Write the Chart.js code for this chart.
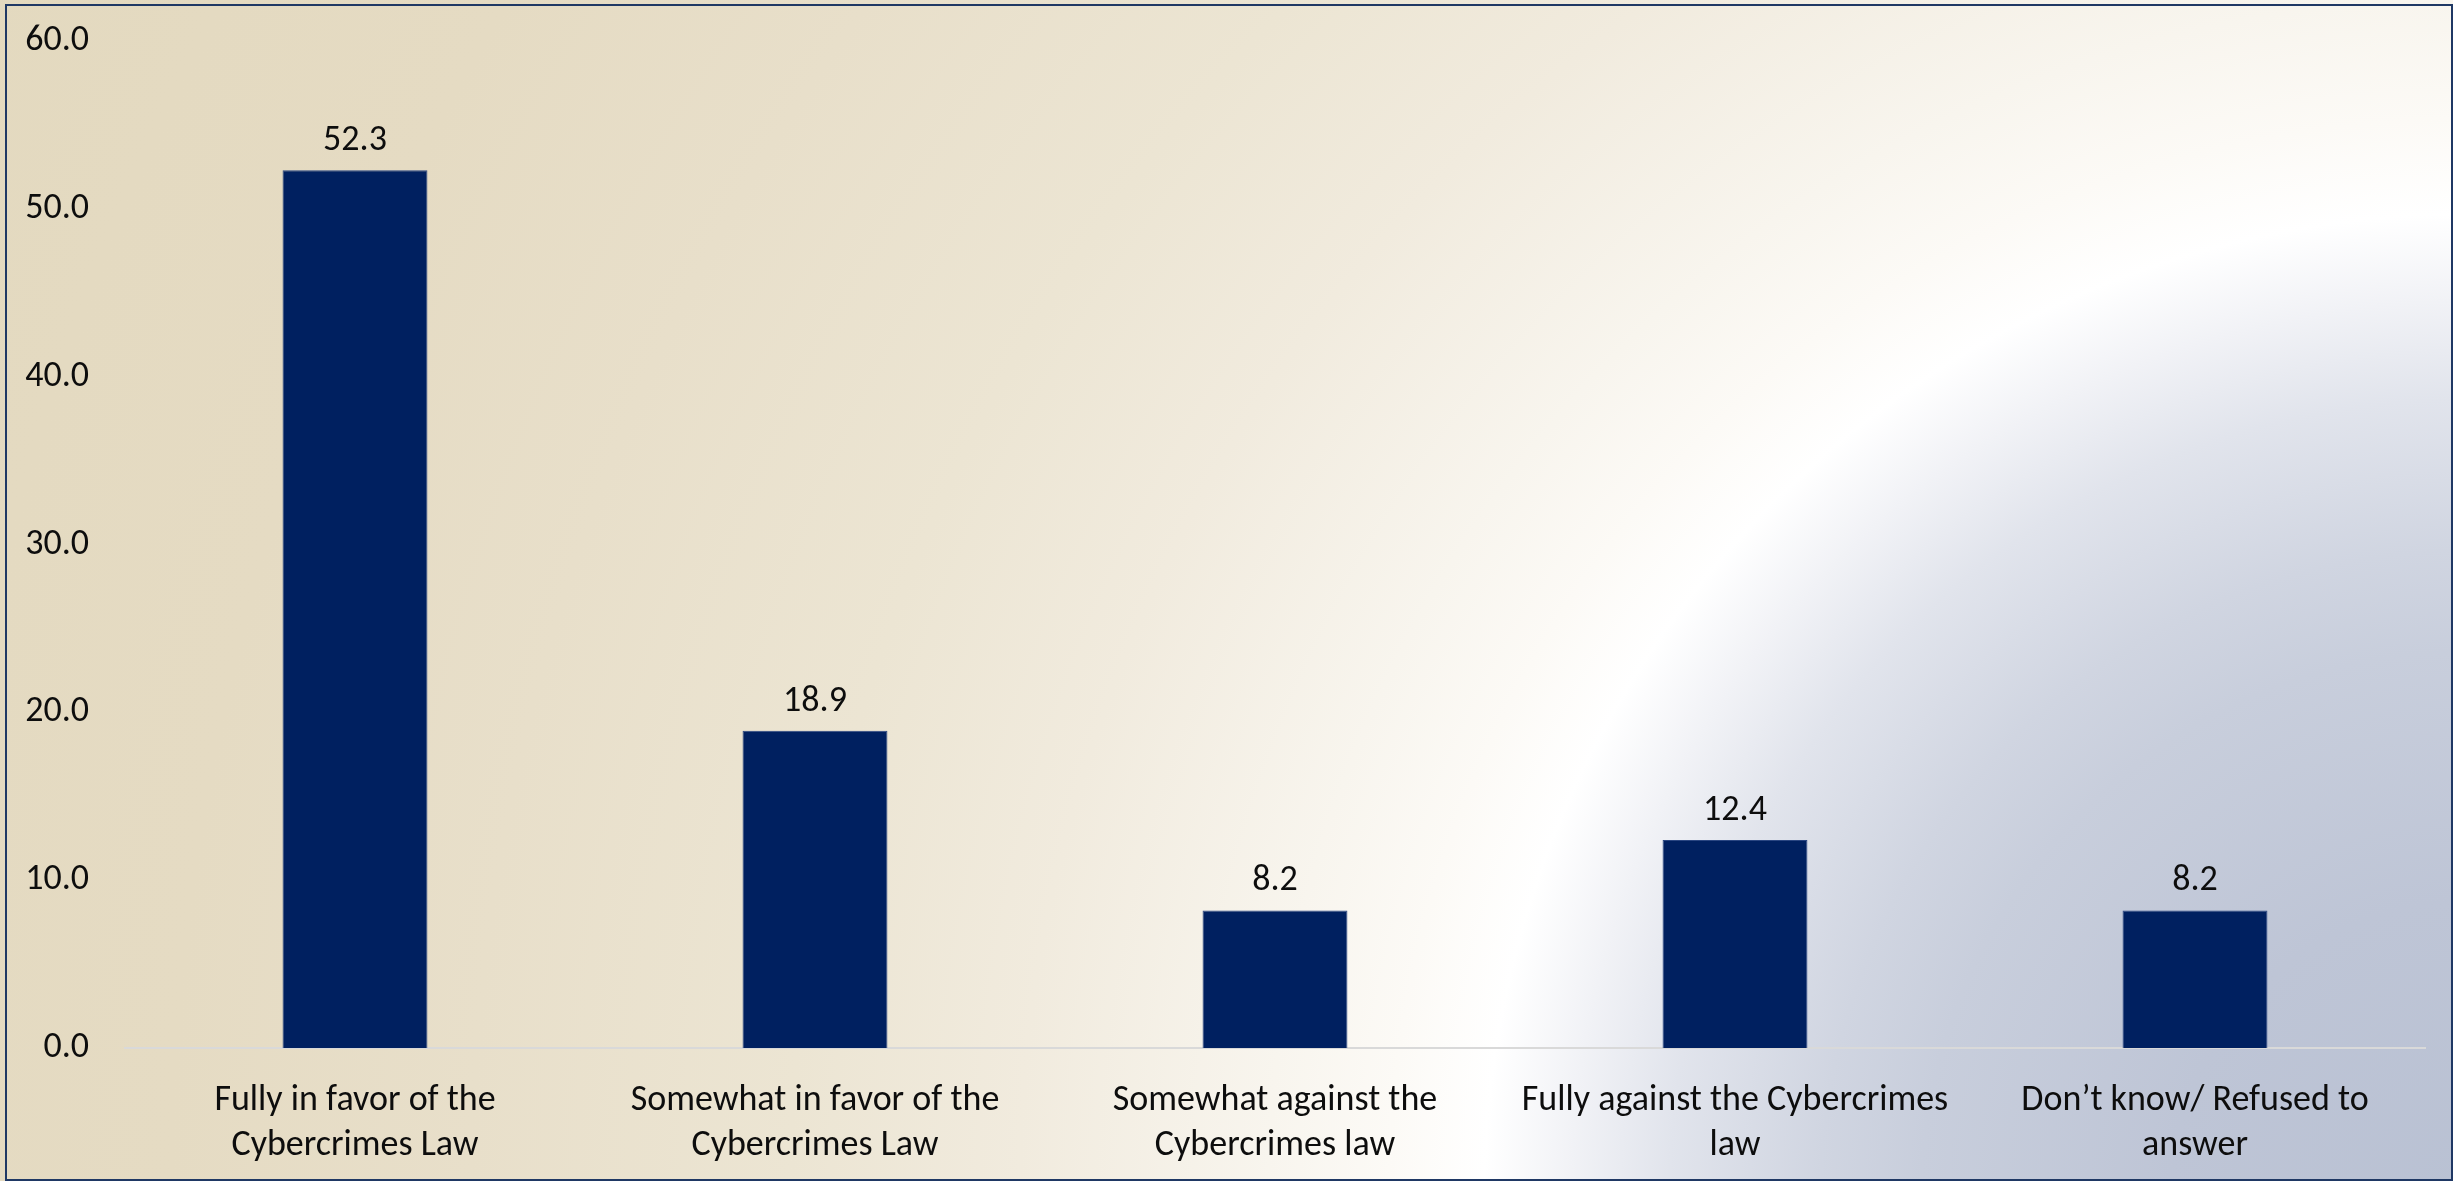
<!DOCTYPE html>
<html>
<head>
<meta charset="utf-8">
<script src="https://cdn.jsdelivr.net/npm/chart.js@4.4.1/dist/chart.umd.min.js"></script>
<style>
  html, body { margin: 0; padding: 0; background: #ffffff; }
  #wrap { position: relative; width: 2453px; height: 1181px; }
</style>
</head>
<body>
<div id="wrap"><canvas id="lawChart"></canvas></div>
<script>
// chart values
const categories = [
    ["Fully in favor of the", "Cybercrimes Law"],
    ["Somewhat in favor of the", "Cybercrimes Law"],
    ["Somewhat against the", "Cybercrimes law"],
    ["Fully against the Cybercrimes", "law"],
    ["Don\u2019t know/ Refused to", "answer"]
];
const shares = [52.3, 18.9, 8.2, 12.4, 8.2];
const yTicks = [0, 10, 20, 30, 40, 50, 60];

const FONT = "Carlito, Lato, 'Open Sans', sans-serif";

// page background: corner path gradient + thin navy frame
const backdropPlugin = {
    id: "backdrop",
    beforeDraw(chart) {
        const { ctx, width, height } = chart;
        ctx.save();
        const g = ctx.createRadialGradient(2470, 1200, 0, 2470, 1200, 2800);
        g.addColorStop(0, "#B9C1D3");
        g.addColorStop(0.107, "#BEC5D6");
        g.addColorStop(0.196, "#C8CEDC");
        g.addColorStop(0.232, "#D0D5E1");
        g.addColorStop(0.286, "#E1E4EC");
        g.addColorStop(0.321, "#F1F2F6");
        g.addColorStop(0.352, "#FFFFFF");
        g.addColorStop(0.386, "#FCFAF6");
        g.addColorStop(0.429, "#F8F5EE");
        g.addColorStop(0.518, "#F1EBDE");
        g.addColorStop(0.6, "#ECE5D3");
        g.addColorStop(0.714, "#E8DFCA");
        g.addColorStop(0.821, "#E5DBC3");
        g.addColorStop(1, "#E3D9BF");
        ctx.fillStyle = g;
        ctx.fillRect(0, 0, width, height);
        ctx.strokeStyle = "#1F3864";
        ctx.lineWidth = 2;
        ctx.strokeRect(6, 5, width - 7, height - 6);
        ctx.restore();
    }
};

// value labels above each bar
const valueLabelPlugin = {
    id: "valueLabels",
    afterDatasetsDraw(chart) {
        const { ctx } = chart;
        const meta = chart.getDatasetMeta(0);
        ctx.save();
        ctx.fillStyle = "#0D0D0D";
        ctx.font = "36px " + FONT;
        ctx.textAlign = "center";
        ctx.textBaseline = "alphabetic";
        meta.data.forEach((bar, i) => {
            ctx.fillText(shares[i].toFixed(1), bar.x, bar.y - 20);
        });
        ctx.restore();
    }
};

const ctxLaw = document.getElementById("lawChart").getContext("2d");
new Chart(ctxLaw, {
    type: "bar",
    data: {
        labels: categories,
        datasets: [{
            data: shares,
            backgroundColor: "#002060",
            borderColor: "#2A4682",
            borderWidth: 1,
            categoryPercentage: 1,
            barPercentage: 0.315
        }]
    },
    options: {
        responsive: true,
        maintainAspectRatio: false,
        animation: false,
        layout: { padding: { top: 41, right: 28, left: 0, bottom: 0 } },
        scales: {
            x: {
                grid: { display: false },
                border: { display: true, color: "#D9D9D9", width: 2 },
                ticks: {
                    color: "#0D0D0D",
                    font: { family: FONT, size: 36, lineHeight: 1.25 },
                    padding: 22,
                    maxRotation: 0,
                    autoSkip: false
                },
                afterFit(scale) {
                    scale.height = 133;
                    scale.paddingTop = 0;
                    scale.paddingBottom = 0;
                }
            },
            y: {
                min: 0,
                max: 60,
                grid: { display: false, drawTicks: false },
                border: { display: false },
                afterBuildTicks(scale) { scale.ticks = yTicks.map(v => ({ value: v })); },
                ticks: {
                    color: "#0D0D0D",
                    font: { family: FONT, size: 36 },
                    padding: 36,
                    callback: v => Number(v).toFixed(1)
                },
                afterFit(scale) {
                    scale.width = 125;
                    scale.paddingTop = 0;
                    scale.paddingBottom = 0;
                }
            }
        },
        plugins: {
            legend: { display: false },
            tooltip: { enabled: false }
        }
    },
    plugins: [backdropPlugin, valueLabelPlugin]
});
</script>
</body>
</html>
